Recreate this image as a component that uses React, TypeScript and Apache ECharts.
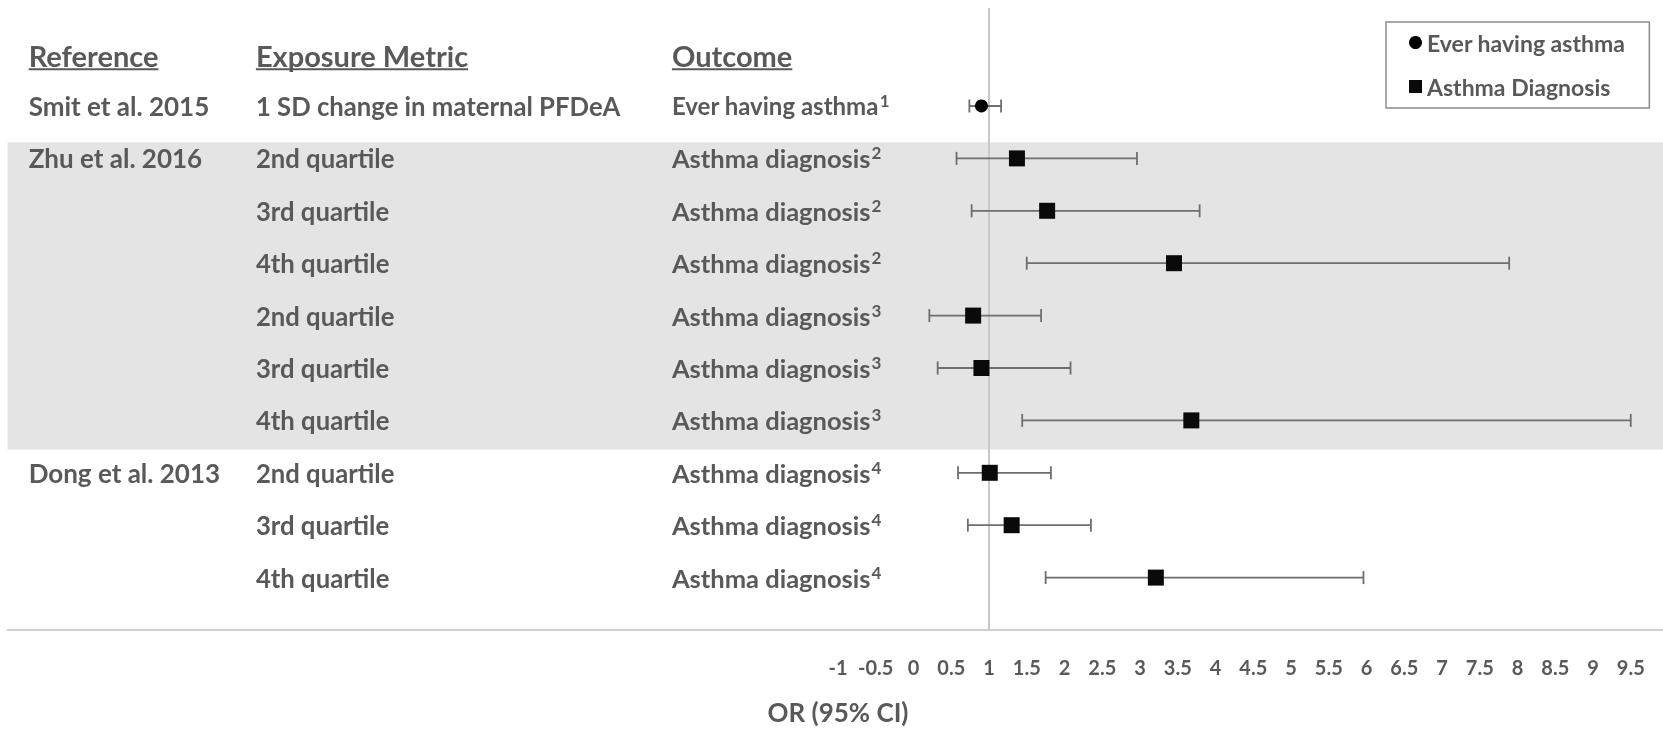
import React, { useEffect, useRef } from 'react';
import * as echarts from 'echarts';

// ---------- data ----------
const headers = ['Reference', 'Exposure Metric', 'Outcome'];
const references = ['Smit et al. 2015', 'Zhu et al. 2016', '', '', '', '', '', 'Dong et al. 2013', '', ''];
const exposures = [
  '1 SD change in maternal PFDeA',
  '2nd quartile', '3rd quartile', '4th quartile',
  '2nd quartile', '3rd quartile', '4th quartile',
  '2nd quartile', '3rd quartile', '4th quartile',
];
const outcomes = [
  'Ever having asthma',
  'Asthma diagnosis', 'Asthma diagnosis', 'Asthma diagnosis',
  'Asthma diagnosis', 'Asthma diagnosis', 'Asthma diagnosis',
  'Asthma diagnosis', 'Asthma diagnosis', 'Asthma diagnosis',
];
const footnotes = ['1', '2', '2', '2', '3', '3', '3', '4', '4', '4'];
const oddsRatios = [0.90, 1.37, 1.77, 3.45, 0.79, 0.90, 3.68, 1.01, 1.30, 3.21];
const lowerCI = [0.74, 0.57, 0.77, 1.50, 0.21, 0.32, 1.44, 0.59, 0.72, 1.75];
const upperCI = [1.16, 2.96, 3.79, 7.89, 1.69, 2.08, 9.50, 1.82, 2.35, 5.96];
const seriesNames = ['Ever having asthma', 'Asthma Diagnosis'];
const nullValue = 1;
const xMin = -12;
const xMax = 10;
const xStep = 0.5;
const firstShownTick = -1;
const axisTitle = 'OR (95% CI)';

// ---------- style ----------
const FONT = 'Lato, "Open Sans", sans-serif';
const TEXT = '#595959';

export default function App() {
  const ref = useRef<HTMLDivElement>(null);

  useEffect(() => {
    const chart = echarts.init(ref.current!, null, { renderer: 'svg' });
    const n = references.length;
    const rowY = (i: number) => n - i; // 10 .. 1
    const headerY = n + 0.97;
    const yMax = 11.87;
    const colX = [-11.72, -8.71, -3.2];
    const colFont = [26, 25.7, 25.5];
    const headerFontSize = 29;

    const canvas = document.createElement('canvas');
    const ctx = canvas.getContext('2d')!;
    const measure = (t: string, size: number) => {
      ctx.font = `bold ${size}px ${FONT}`;
      return ctx.measureText(t).width;
    };

    type Cell = { x: number; y: number; text: string; size: number; header?: boolean; sup?: string };
    const cells: Cell[] = [];
    headers.forEach((h, c) => cells.push({ x: colX[c], y: headerY, text: h, size: headerFontSize, header: true }));
    for (let i = 0; i < n; i++) {
      if (references[i]) cells.push({ x: colX[0], y: rowY(i), text: references[i], size: colFont[0] });
      cells.push({ x: colX[1], y: rowY(i), text: exposures[i], size: colFont[1] });
      cells.push({ x: colX[2], y: rowY(i), text: outcomes[i], size: i === 0 ? 24 : colFont[2], sup: footnotes[i] });
    }

    const circleData: number[][] = [];
    const squareData: number[][] = [];
    oddsRatios.forEach((v, i) => {
      if (outcomes[i] === 'Ever having asthma') circleData.push([v, rowY(i)]);
      else squareData.push([v, rowY(i)]);
    });

    const option: any = {
      animation: false,
      grid: { left: 7.5, right: 0.5, top: 8, bottom: 96.8 },
      xAxis: {
        type: 'value',
        min: xMin,
        max: xMax,
        interval: xStep,
        splitLine: { show: false },
        axisTick: { show: false },
        axisLine: { show: true, lineStyle: { color: '#d0d0d0', width: 2 } },
        axisLabel: {
          color: TEXT,
          fontSize: 20,
          fontWeight: 'bold',
          fontFamily: FONT,
          margin: 27,
          showMaxLabel: false,
          formatter: (v: number) => (v < firstShownTick || v >= xMax ? '' : String(v)),
        },
        name: axisTitle,
        nameLocation: 'middle',
        nameGap: 69,
        nameTextStyle: { color: TEXT, fontSize: 26, fontWeight: 'bold', fontFamily: FONT },
      },
      yAxis: { type: 'value', min: 0, max: yMax, show: false, splitLine: { show: false } },
      legend: {
        data: seriesNames,
        orient: 'vertical',
        left: 1386,
        top: 22,
        padding: [9, 24, 10, 23],
        itemGap: 21,
        itemWidth: 13,
        itemHeight: 13,
        borderColor: '#8c8c8c',
        borderWidth: 1.5,
        borderRadius: 0,
        textStyle: { color: TEXT, fontSize: 23, fontWeight: 'bold', fontFamily: FONT, lineHeight: 22, width: 193 },
      },
      series: [
        {
          type: 'custom',
          name: 'band',
          z: 0,
          silent: true,
          data: [[3.445, 9.31]],
          renderItem: (params: any, api: any) => {
            const a = api.coord([xMin, api.value(1)]);
            const b = api.coord([xMax, api.value(0)]);
            return { type: 'rect', shape: { x: a[0], y: a[1], width: b[0] - a[0], height: b[1] - a[1] }, style: { fill: '#e4e4e4' } };
          },
        },
        {
          type: 'custom',
          name: 'nullLine',
          z: 1,
          silent: true,
          data: [[nullValue]],
          renderItem: (params: any, api: any) => {
            const a = api.coord([api.value(0), yMax]);
            const b = api.coord([api.value(0), 0]);
            return { type: 'line', shape: { x1: a[0], y1: a[1], x2: b[0], y2: b[1] }, style: { stroke: '#c8c8c8', lineWidth: 2 } };
          },
        },
        {
          type: 'custom',
          name: 'table',
          z: 2,
          silent: true,
          data: cells.map((c, i) => [c.x, c.y, i]),
          renderItem: (params: any, api: any) => {
            const cell = cells[params.dataIndex];
            const p = api.coord([cell.x, cell.y]);
            const size = cell.size;
            const children: any[] = [
              {
                type: 'text',
                x: p[0],
                y: p[1],
                style: {
                  text: cell.sup ? `${cell.text}{s|${cell.sup}}` : cell.text,
                  fill: TEXT,
                  fontSize: size,
                  fontWeight: 'bold',
                  fontFamily: FONT,
                  align: 'left',
                  verticalAlign: 'middle',
                  lineHeight: 30,
                  rich: {
                    s: { fontSize: 17, fontWeight: 'bold', fontFamily: FONT, fill: TEXT, verticalAlign: 'top', lineHeight: 18, padding: [1, 0, 0, 1] },
                  },
                },
              },
            ];
            if (cell.header) {
              children.push({
                type: 'rect',
                shape: { x: p[0], y: p[1] + 13, width: measure(cell.text, size), height: 2 },
                style: { fill: TEXT },
              });
            }
            return { type: 'group', children };
          },
        },
        {
          type: 'custom',
          name: 'ci',
          z: 3,
          silent: true,
          data: oddsRatios.map((_, i) => [lowerCI[i], upperCI[i], rowY(i)]),
          renderItem: (params: any, api: any) => {
            const lo = api.coord([api.value(0), api.value(2)]);
            const hi = api.coord([api.value(1), api.value(2)]);
            const h = 6.5;
            const st = { stroke: '#6e6e6e', lineWidth: 1.8 };
            return {
              type: 'group',
              children: [
                { type: 'line', shape: { x1: lo[0], y1: lo[1], x2: hi[0], y2: hi[1] }, style: st },
                { type: 'line', shape: { x1: lo[0], y1: lo[1] - h, x2: lo[0], y2: lo[1] + h }, style: st },
                { type: 'line', shape: { x1: hi[0], y1: hi[1] - h, x2: hi[0], y2: hi[1] + h }, style: st },
              ],
            };
          },
        },
        {
          type: 'scatter',
          name: seriesNames[0],
          z: 4,
          symbol: 'circle',
          symbolSize: 13,
          itemStyle: { color: '#000000', opacity: 1 },
          data: circleData,
        },
        {
          type: 'scatter',
          name: seriesNames[1],
          z: 4,
          symbol: 'rect',
          symbolSize: 16,
          itemStyle: { color: '#0a0a0a', opacity: 1 },
          data: squareData,
        },
      ],
    };
    chart.setOption(option);
    return () => chart.dispose();
  }, []);

  return (
    <div style={{ position: 'fixed', left: 0, top: 0, width: 1663, height: 730, overflow: 'hidden' }}>
      <div ref={ref} style={{ width: 1669, height: 730 }} />
    </div>
  );
}
